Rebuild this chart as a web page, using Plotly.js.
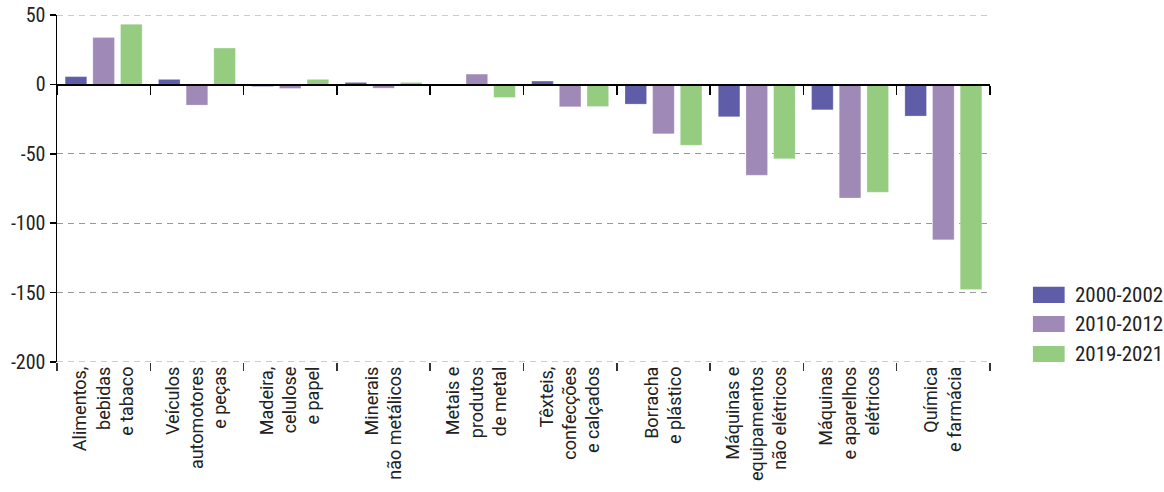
<!DOCTYPE html>
<html>
<head>
<meta charset="utf-8">
<script src="https://cdn.plot.ly/plotly-3.0.1.min.js"></script>
<style>html,body{margin:0;padding:0;background:#fff;}#chart{width:1164px;height:492px;}</style>
</head>
<body>
<div id="chart"></div>
<script>
const categories = [
  "Alimentos,<br>bebidas<br>e tabaco",
  "Veículos<br>automotores<br>e peças",
  "Madeira,<br>celulose<br>e papel",
  "Minerais<br>não metálicos",
  "Metais e<br>produtos<br>de metal",
  "Têxteis,<br>confecções<br>e calçados",
  "Borracha<br>e plástico",
  "Máquinas e<br>equipamentos<br>não elétricos",
  "Máquinas<br>e aparelhos<br>elétricos",
  "Química<br>e farmácia"
];
const seriesNames = ["2000-2002", "2010-2012", "2019-2021"];
const values2000 = [5.6, 3.6, -1.5, 1.4, 0.0, 2.4, -14.2, -23.3, -18.3, -22.8];
const values2010 = [33.7, -14.9, -2.9, -2.7, 7.4, -16.1, -35.6, -65.4, -81.8, -112.0];
const values2019 = [43.3, 26.2, 3.6, 1.4, -9.4, -15.9, -43.8, -53.6, -77.7, -147.7];
const yTicks = [50, 0, -50, -100, -150, -200];

const colors = ["#5f5da8", "#9f89b6", "#95cc80"];
const seriesValues = [values2000, values2010, values2019];
const FONT = "'Liberation Sans Narrow', 'Roboto Condensed', 'Arial Narrow', Roboto, sans-serif";
const yMin = yTicks[yTicks.length - 1], yMax = yTicks[0];

const traces = seriesValues.map((vals, i) => ({
  type: "bar",
  name: seriesNames[i],
  x: categories,
  y: vals,
  marker: {color: colors[i], line: {color: "rgba(255,255,255,0.4)", width: 0.6}},
  showlegend: false,
  hoverinfo: "y"
}));
traces.push({
  type: "scatter", mode: "none", x: categories, y: categories.map(() => 0),
  xaxis: "x2", yaxis: "y", showlegend: false, hoverinfo: "skip"
});

// custom legend (large swatches)
const legendX0 = 1.046, legendX1 = 1.080, legendTextX = 1.089;
const legendY = [0.1934, 0.1097, 0.0231];
const half = 0.0231;
const shapes = seriesNames.map((n, i) => ({
  type: "rect", xref: "paper", yref: "paper",
  x0: legendX0, x1: legendX1, y0: legendY[i] - half, y1: legendY[i] + half,
  fillcolor: colors[i], line: {width: 0}
}));
// edge gridlines (Plotly omits gridlines at the range ends)
[yMax, yMin].forEach(v => shapes.push({
  type: "line", xref: "paper", yref: "y", x0: 0, x1: 1, y0: v, y1: v, layer: "below",
  line: {color: "#999", width: 1, dash: "6px,5px"}
}));
const annotations = seriesNames.map((n, i) => ({
  xref: "paper", yref: "paper", x: legendTextX, y: legendY[i],
  xanchor: "left", yanchor: "middle", text: n, showarrow: false,
  font: {family: FONT, size: 21, color: "#222"}
}));

const layout = {
  width: 1164, height: 492,
  margin: {l: 57, r: 174, t: 15, b: 130},
  paper_bgcolor: "#fff", plot_bgcolor: "#fff",
  barmode: "group", bargap: 0.11, bargroupgap: 0.22,
  font: {family: FONT, color: "#222"},
  xaxis: {
    type: "category", categoryarray: categories, categoryorder: "array",
    range: [-0.5, 9.5],
    ticks: "outside", tickson: "boundaries", ticklen: 8, tickcolor: "#333", tickwidth: 1.5,
    showline: false, showgrid: false, zeroline: false,
    tickangle: -90, tickfont: {family: "Roboto, sans-serif", size: 18, color: "#222"}
  },
  xaxis2: {
    type: "category", categoryarray: categories, categoryorder: "array",
    range: [-0.5, 9.5], overlaying: "x", anchor: "free", position: 0.8, side: "bottom",
    showline: true, linecolor: "#000", linewidth: 1.5,
    ticks: "outside", tickson: "boundaries", ticklen: 9, tickcolor: "#000", tickwidth: 1.5,
    showticklabels: false, showgrid: false, zeroline: false
  },
  yaxis: {
    range: [yMin, yMax], tickvals: yTicks, ticktext: yTicks.map(String),
    showline: true, linecolor: "#000", linewidth: 1.5,
    ticks: "outside", ticklen: 6, tickcolor: "#000", tickwidth: 1.5,
    showgrid: true, gridcolor: "#999", gridwidth: 1, griddash: "6px,5px",
    zeroline: false,
    tickfont: {family: FONT, size: 20, color: "#222"}
  },
  shapes: shapes,
  annotations: annotations
};

Plotly.newPlot("chart", traces, layout, {displayModeBar: false, staticPlot: true});
</script>
</body>
</html>
